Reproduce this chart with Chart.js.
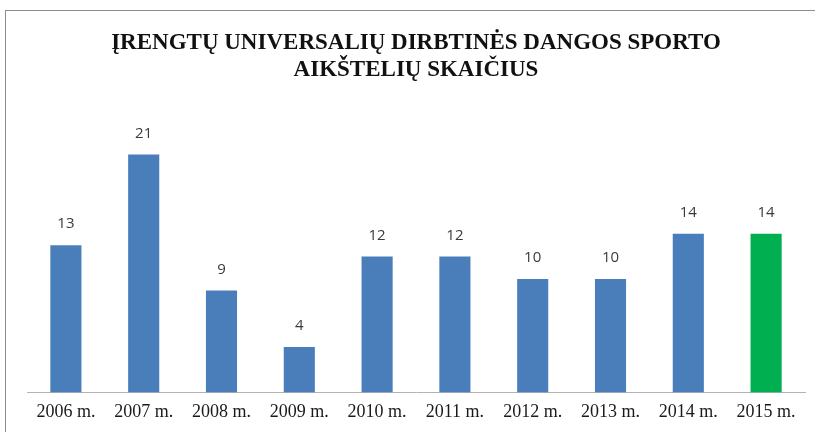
<!DOCTYPE html>
<html>
<head>
<meta charset="utf-8">
<script src="https://cdn.jsdelivr.net/npm/chart.js@4"></script>
<style>
  html, body { margin: 0; padding: 0; background: #fff; overflow: hidden; }
  #wrap { position: relative; width: 815px; height: 432px; }
  #frame { position: absolute; left: 5px; top: 10px; width: 830px; height: 440px; border: 1px solid #8c8c8c; box-sizing: border-box; pointer-events: none; }
  canvas { position: absolute; left: 0; top: 0; }
</style>
</head>
<body>
<div id="wrap">
  <canvas id="c" width="815" height="432"></canvas>
  <div id="frame"></div>
</div>
<script>
const categories = ["2006 m.", "2007 m.", "2008 m.", "2009 m.", "2010 m.", "2011 m.", "2012 m.", "2013 m.", "2014 m.", "2015 m."];
const fieldCounts = [13, 21, 9, 4, 12, 12, 10, 10, 14, 14];
const titleLines = ["ĮRENGTŲ UNIVERSALIŲ DIRBTINĖS DANGOS SPORTO", "AIKŠTELIŲ SKAIČIUS"];

const barColors = categories.map((c, i) => i === categories.length - 1 ? "#00B050" : "#4A7EBB");

const valueLabels = {
  id: "valueLabels",
  afterDatasetsDraw(chart) {
    const ctx = chart.ctx;
    const meta = chart.getDatasetMeta(0);
    ctx.save();
    ctx.font = "15px 'Open Sans', 'Liberation Sans', sans-serif";
    ctx.fillStyle = "#3a3a3a";
    ctx.textAlign = "center";
    ctx.textBaseline = "middle";
    meta.data.forEach((bar, i) => {
      ctx.fillText(String(fieldCounts[i]), bar.x, bar.y - 21);
    });
    ctx.restore();
  }
};

new Chart(document.getElementById("c"), {
  type: "bar",
  data: {
    labels: categories,
    datasets: [{
      data: fieldCounts,
      backgroundColor: barColors,
      borderWidth: 0,
      barPercentage: 0.4,
      categoryPercentage: 1.0
    }]
  },
  options: {
    responsive: false,
    animation: false,
    devicePixelRatio: 1,
    layout: { padding: { left: 27, right: 10, top: 0, bottom: 0 } },
    plugins: {
      legend: { display: false },
      tooltip: { enabled: false },
      title: {
        display: true,
        text: titleLines,
        color: "#111111",
        font: { family: "'Liberation Serif', 'Times New Roman', serif", size: 23, weight: "bold", lineHeight: 1.2 },
        padding: { top: 29, bottom: 25 }
      }
    },
    scales: {
      x: {
        grid: { display: false, drawTicks: false },
        border: { display: true, color: "#b3b3b3", width: 1 },
        ticks: {
          color: "#1a1a1a",
          padding: 9,
          maxRotation: 0,
          font: { family: "'Liberation Serif', 'Times New Roman', serif", size: 18, lineHeight: 1.2 }
        }
      },
      y: {
        display: false,
        min: 0,
        max: 25
      }
    }
  },
  plugins: [valueLabels]
});
</script>
</body>
</html>
